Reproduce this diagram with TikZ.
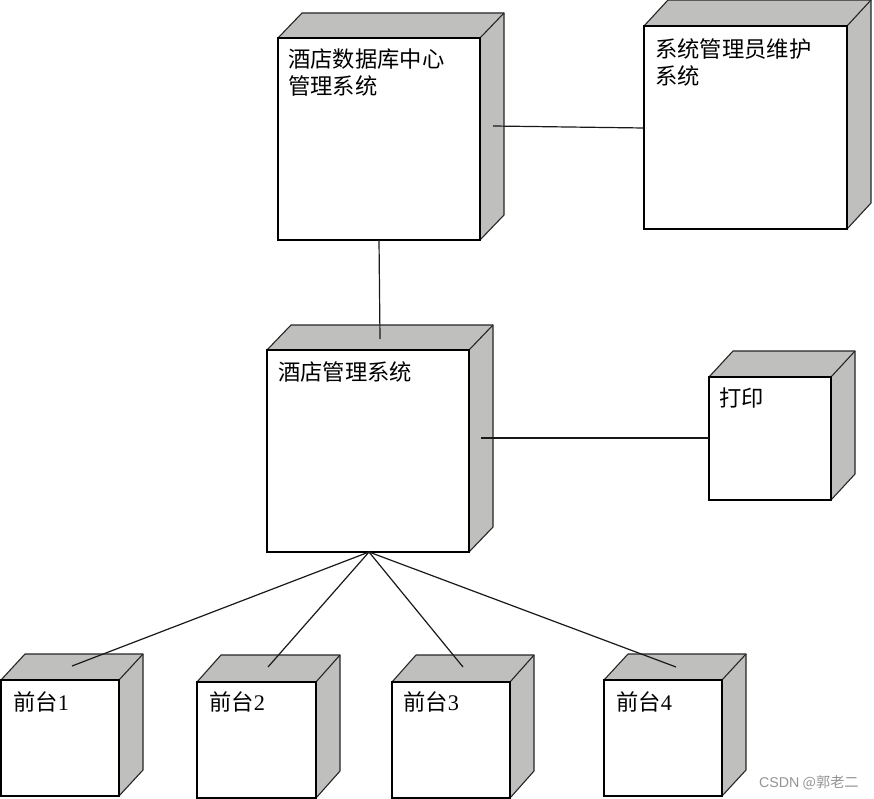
\documentclass[tikz,border=0pt]{standalone}
\usepackage{fontspec}
\setmainfont{Noto Sans CJK SC}
\newfontfamily\latinserif{Liberation Serif}
\newfontfamily\markfont{Liberation Sans}
\tikzset{
  sideface/.style={fill=cubegray,draw=black!85,line width=1.1pt,line join=round},
  frontface/.style={fill=white,draw=black,line width=1.8pt,inner sep=0pt,outer sep=0pt},
  caption/.style={anchor=north west,align=left,inner sep=0pt,font=\fontsize{22.3}{27}\selectfont,text=black},
  link/.style={draw=black!90,line width=1.2pt},
  watermark/.style={anchor=west,inner sep=0pt,text=black!42,font=\fontsize{14.2}{16}\selectfont}
}
\definecolor{cubegray}{HTML}{BFBFBD}
% name, x0, y0, x1, y1, dx, dy
\newcommand{\cubebox}[7]{%
  \path[sideface] (#2,#3) -- ++(#6,-#7) -- (#4+#6,#3-#7) -- (#4+#6,#5-#7) -- (#4,#5) -- (#4,#3) -- cycle;
  \path[sideface] (#4,#3) -- (#4+#6,#3-#7);
  \node[frontface,minimum width={(#4-#2)*1pt},minimum height={(#5-#3)*1pt}] (#1) at ({(#2+#4)/2},{(#3+#5)/2}) {};
}
\begin{document}
\begin{tikzpicture}[x=1pt,y=-1pt]
\useasboundingbox (0,0) rectangle (874,799);
\fill[white] (0,0) rectangle (874,799);
\cubebox{db}{278}{38}{480}{240}{24}{25}
\cubebox{admin}{644}{26}{847}{229}{24}{26}
\cubebox{hotel}{267}{350}{469}{552}{24}{25}
\cubebox{print}{709}{377}{831}{500}{24}{26}
\cubebox{fa}{1}{680}{119}{796}{24}{26}
\cubebox{fb}{197}{682}{316}{798}{24}{27}
\cubebox{fc}{392}{682}{510}{798}{24}{27}
\cubebox{fd}{604}{680}{722}{796}{24}{26}
% connector ends that stop on a cube's shaded faces
\coordinate (dbside) at (493,126);
\coordinate (hoteltop) at (380,339);
\coordinate (hotelside) at (481,438);
\coordinate (apex) at (369,552);
\coordinate (fatop) at (72,666);
\coordinate (fbtop) at (268,667);
\coordinate (fctop) at (463,667);
\coordinate (fdtop) at (676,667);
\draw[link] (dbside) -- (admin.west |- 0,128);
\draw[link] (db.south -| 379,0) -- (hoteltop);
\draw[link] (hotelside) -- (print.west |- hotelside);
\draw[link] (apex) -- (fatop);
\draw[link] (apex) -- (fbtop);
\draw[link] (apex) -- (fctop);
\draw[link] (apex) -- (fdtop);
\node[caption] (tdb) at (288,49) {酒店数据库中心\\管理系统};
\node[caption] (tadmin) at (655,38) {系统管理员维护\\系统};
\node[caption] (thotel) at (278,361) {酒店管理系统};
\node[caption] (tprint) at (719,388) {打印};
\node[caption] (tfa) at (13,691) {前台{\latinserif 1}};
\node[caption] (tfb) at (209,691) {前台{\latinserif 2}};
\node[caption] (tfc) at (403,691) {前台{\latinserif 3}};
\node[caption] (tfd) at (616,691) {前台{\latinserif 4}};
\node[watermark] (mark) at (759,783) {{\markfont CSDN} @郭老二};
\end{tikzpicture}
\end{document}
